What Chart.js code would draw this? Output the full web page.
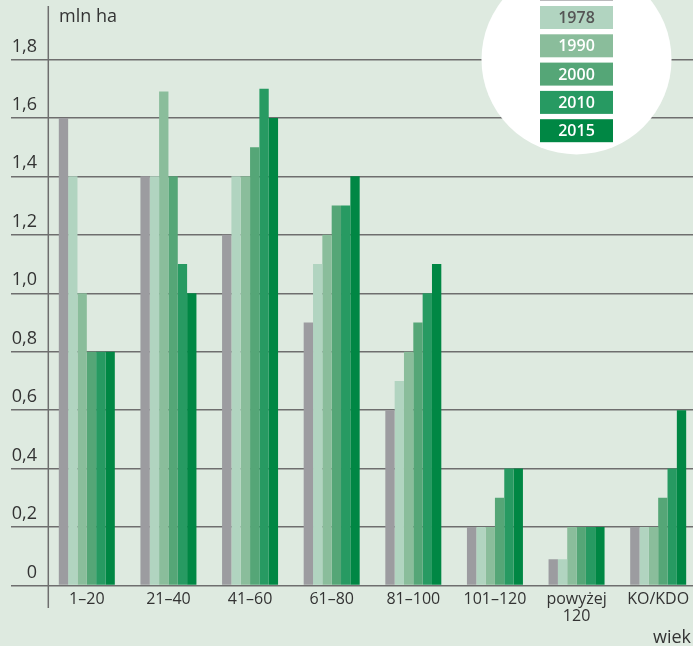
<!DOCTYPE html>
<html>
<head>
<meta charset="utf-8">
<script src="https://cdn.jsdelivr.net/npm/chart.js@4/dist/chart.umd.min.js"></script>
<style>
  html, body { margin: 0; padding: 0; overflow: hidden; background: #deeae0; }
  #wrap { position: relative; width: 700px; height: 646px; }
</style>
</head>
<body>
<div id="wrap"><canvas id="c"></canvas></div>
<script>
const categories = ['1–20', '21–40', '41–60', '61–80', '81–100', '101–120', ['powyżej', '120'], 'KO/KDO'];
const seriesNames = ['1967', '1978', '1990', '2000', '2010', '2015'];
const seriesColors = ['#9c9ca0', '#b1d4c0', '#8abd9b', '#55a677', '#279a62', '#008744'];
const legendTextColors = ['#ffffff', '#555555', '#ffffff', '#ffffff', '#ffffff', '#ffffff'];
const values1967 = [1.6, 1.4, 1.2, 0.9, 0.6, 0.2, 0.09, 0.2];
const values1978 = [1.4, 1.4, 1.4, 1.1, 0.7, 0.2, 0.09, 0.2];
const values1990 = [1.0, 1.69, 1.4, 1.2, 0.8, 0.2, 0.2, 0.2];
const values2000 = [0.8, 1.4, 1.5, 1.3, 0.9, 0.3, 0.2, 0.3];
const values2010 = [0.8, 1.1, 1.7, 1.3, 1.0, 0.4, 0.2, 0.4];
const values2015 = [0.8, 1.0, 1.6, 1.4, 1.1, 0.4, 0.2, 0.6];
const yTickLabels = ['0', '0,2', '0,4', '0,6', '0,8', '1,0', '1,2', '1,4', '1,6', '1,8'];
const yUnit = 'mln ha';
const xUnit = 'wiek';

const allValues = [values1967, values1978, values1990, values2000, values2010, values2015];
const FONT = "'Open Sans', 'Noto Sans', sans-serif";
const GRID = '#6e6e6e';

const extras = {
  id: 'extras',
  beforeDraw(chart) {
    const ctx = chart.ctx;
    ctx.save();
    ctx.fillStyle = '#deeae0';
    ctx.fillRect(0, 0, chart.width, chart.height);
    ctx.restore();
  },
  afterDraw(chart) {
    const ctx = chart.ctx;
    const y = chart.scales.y;
    ctx.save();
    // vertical axis line
    ctx.strokeStyle = GRID;
    ctx.lineWidth = 1.5;
    ctx.beginPath();
    ctx.moveTo(48.3, 6);
    ctx.lineTo(48.3, 608);
    ctx.stroke();
    // unit labels
    ctx.fillStyle = '#333333';
    ctx.font = '18px ' + FONT;
    ctx.textAlign = 'left';
    ctx.textBaseline = 'alphabetic';
    ctx.fillText(yUnit, 59, 22);
    ctx.font = '18px ' + FONT;
    ctx.textAlign = 'right';
    ctx.fillText(xUnit, 691, 643);
    // legend circle
    const cx = 576.5, cy = y.getPixelForValue(1.8);
    ctx.fillStyle = '#ffffff';
    ctx.beginPath();
    ctx.arc(cx, cy, 95, 0, Math.PI * 2);
    ctx.fill();
    // legend boxes
    const bw = 73, bh = 23, step = 28.3;
    chart.data.datasets.forEach((ds, i) => {
      const top = 6 + (i - 1) * step;
      ctx.fillStyle = ds.backgroundColor;
      ctx.fillRect(cx - bw / 2, top, bw, bh);
      ctx.fillStyle = legendTextColors[i];
      ctx.font = '600 16px ' + FONT;
      ctx.textAlign = 'center';
      ctx.textBaseline = 'middle';
      ctx.fillText(ds.label, cx, top + bh / 2 + 1);
    });
    ctx.restore();
  }
};

new Chart(document.getElementById('c'), {
  type: 'bar',
  data: {
    labels: categories,
    datasets: seriesNames.map((name, i) => ({
      label: name,
      data: allValues[i],
      backgroundColor: seriesColors[i],
      borderWidth: 0,
      barPercentage: 1.0,
      categoryPercentage: 0.686
    }))
  },
  options: {
    responsive: true,
    maintainAspectRatio: false,
    animation: false,
    layout: { padding: { top: 1, right: 1, left: 0, bottom: 0 } },
    plugins: { legend: { display: false }, tooltip: { enabled: false }, title: { display: false } },
    scales: {
      x: {
        grid: { display: false, drawTicks: false },
        border: { display: false },
        ticks: {
          color: '#333333',
          font: { family: FONT, size: 16, lineHeight: 1.1 },
          padding: 5,
          maxRotation: 0,
          autoSkip: false
        },
        afterFit(scale) { scale.height = 60.5; }
      },
      y: {
        min: 0,
        max: 2.0,
        border: { display: false },
        grid: {
          color: GRID,
          lineWidth: 1.5,
          drawTicks: true,
          tickLength: 35,
          tickColor: GRID,
          tickWidth: 1.5
        },
        ticks: {
          stepSize: 0.2,
          color: '#333333',
          font: { family: FONT, size: 18 },
          padding: -26,
          labelOffset: -13,
          callback: (v, i) => yTickLabels[i]
        },
        afterBuildTicks(scale) {
          scale.ticks = scale.ticks.filter(t => t.value <= 1.8001);
        },
        afterFit(scale) { scale.width = 46; }
      }
    }
  },
  plugins: [extras]
});
</script>
</body>
</html>
